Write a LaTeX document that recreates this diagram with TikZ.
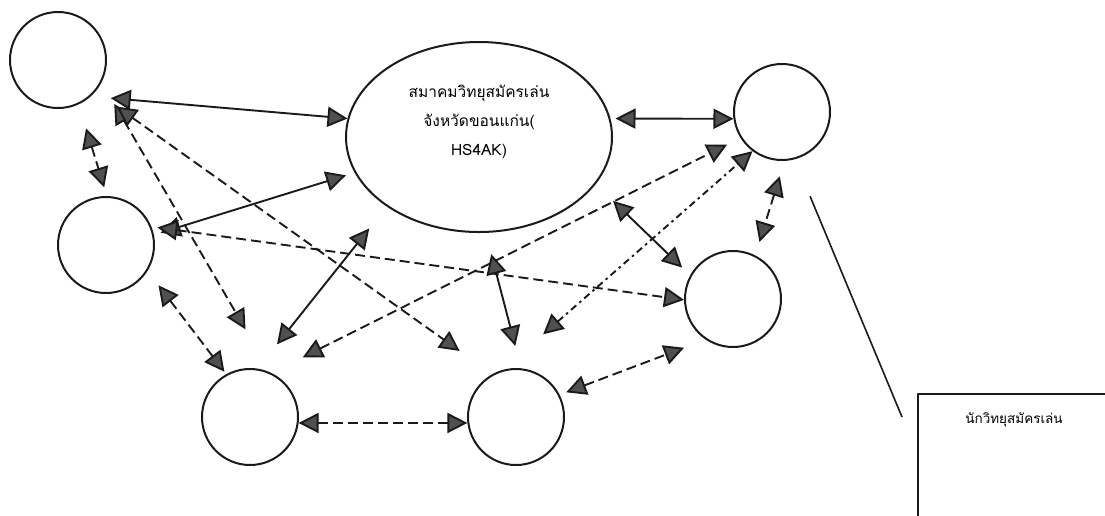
\documentclass[tikz,border=0pt]{standalone}
\usepackage{fontspec}
\newfontfamily\thaifont[Script=Thai]{Loma}
\usetikzlibrary{arrows.meta}
\usetikzlibrary{shapes.geometric}
\definecolor{inkgray}{HTML}{1A1A1A}
\definecolor{tipgray}{HTML}{505050}

\begin{document}
\begin{tikzpicture}[x=1pt, y=-1pt, line join=round]
		\tikzstyle{member}=[circle, minimum size = 96pt, inner sep=0pt, line width=2pt, draw = inkgray]
		\tikzstyle{assoc}=[ellipse, minimum width = 266pt, minimum height = 190pt, inner sep=0pt, line width=2pt, draw = inkgray]
		\tikzstyle{bothtips}=[{Triangle[length=20pt, width=20pt, fill=tipgray]}-{Triangle[length=20pt, width=20pt, fill=tipgray]}]
		\tikzstyle{hamlink}=[line width=1.9pt, draw=inkgray, bothtips]
		\tikzstyle{hamdash}=[hamlink, dash pattern=on 10pt off 5pt]
		\tikzstyle{hamdashdot}=[hamlink, dash pattern=on 7pt off 4pt on 2.5pt off 4pt]
		\tikzstyle{thai}=[font=\thaifont\fontsize{15.5}{29}\selectfont, align=center, text=black]
		\useasboundingbox (0,0) rectangle (1105,515);
		\clip (0,0) rectangle (1105,515);
		\node[member] (ham1) at (58,60) {};
		\node[member] (ham2) at (106,245) {};
		\node[member] (ham3) at (250,417) {};
		\node[member] (ham4) at (516,417) {};
		\node[member] (ham5) at (733,299) {};
		\node[member] (ham6) at (782,112) {};
		\node[assoc] (club) at (479,137) {};
		\node[thai] (clubtext) at ([yshift=15pt]club.center) {สมาคมวิทยุสมัครเล่น\\จังหวัดขอนแก่น(\\HS4AK)};
		%box of the amateur
		\node[rectangle, draw=inkgray, line width=1.8pt, anchor=north west, minimum width=220pt, minimum height=160pt] (hambox) at (917,393) {};
		\node[thai, font=\thaifont\fontsize{13.5}{16}\selectfont] (hamlabel) at (1014,420) {นักวิทยุสมัครเล่น};
		\coordinate (leadend) at (902,417);
		\draw[line width=1.6pt, draw=inkgray, shorten <=40pt] (ham6.-75) -- (leadend);
		\path
		(ham1.-48) edge [hamlink, shorten <=20pt] (club.172)
		(ham1.-65) edge [hamdash, shorten <=25pt, shorten >=9pt] (ham2.89)
		(ham1.-27) edge [hamdash, shorten <=25pt, shorten >=50pt] (ham3.65)
		(ham1.-40) edge [hamdash, shorten <=26pt, shorten >=40pt] (ham4.119)
		(ham2.12) edge [hamlink, shorten <=7pt, shorten >=9pt] (club.196)
		(ham2.22) edge [hamdash, shorten <=6pt] (ham5.181)
		(ham2.-32) edge [hamdash, shorten <=18pt, shorten >=3pt] (ham3.119)
		(club.217) edge [hamlink, shorten <=28pt, shorten >=31pt] (ham3.81)
		(ham3.64) edge [hamdash, shorten <=35pt, shorten >=15pt] (ham6.212)
		(ham3.-7) edge [hamdash] (ham4.187)
		(club.274) edge [hamlink, shorten <=22pt, shorten >=23pt] (ham4.84)
		(ham4.106) edge [hamdashdot, shorten <=54pt] (ham6.233)
		(club.-22) edge [hamlink, shorten <=24pt, shorten >=11pt] (ham5.151)
		(ham4.27) edge [hamdash, shorten <=7pt, shorten >=23pt] (ham5.236)
		(ham6.-87) edge [hamdash, shorten <=16pt, shorten >=14pt] (ham5.63)
		(club.8) edge [hamlink, shorten <=5pt] (ham6.188)
		;
	\end{tikzpicture}
\end{document}
